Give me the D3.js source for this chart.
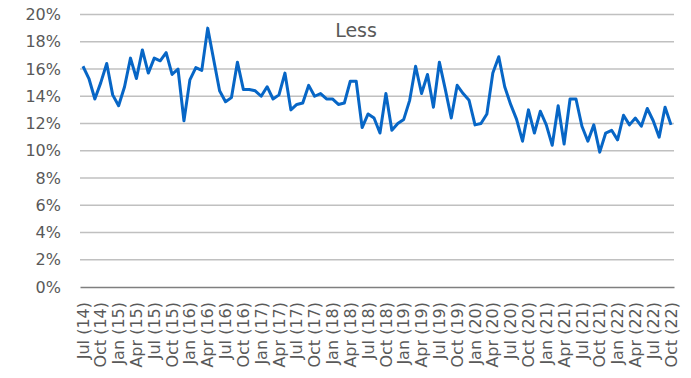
<!DOCTYPE html>
<html>
<head>
<meta charset="utf-8">
<script src="https://cdn.jsdelivr.net/npm/d3@7"></script>
<style>
  html, body { margin: 0; padding: 0; background: #ffffff; }
  svg { display: block; }
  text { font-family: "DejaVu Sans", Verdana, sans-serif; fill: #595959; }
</style>
</head>
<body>
<svg id="chart" width="691" height="378"></svg>
<script>
const categories = [
  "Jul (14)","Aug (14)","Sep (14)","Oct (14)","Nov (14)","Dec (14)",
  "Jan (15)","Feb (15)","Mar (15)","Apr (15)","May (15)","Jun (15)","Jul (15)","Aug (15)","Sep (15)","Oct (15)","Nov (15)","Dec (15)",
  "Jan (16)","Feb (16)","Mar (16)","Apr (16)","May (16)","Jun (16)","Jul (16)","Aug (16)","Sep (16)","Oct (16)","Nov (16)","Dec (16)",
  "Jan (17)","Feb (17)","Mar (17)","Apr (17)","May (17)","Jun (17)","Jul (17)","Aug (17)","Sep (17)","Oct (17)","Nov (17)","Dec (17)",
  "Jan (18)","Feb (18)","Mar (18)","Apr (18)","May (18)","Jun (18)","Jul (18)","Aug (18)","Sep (18)","Oct (18)","Nov (18)","Dec (18)",
  "Jan (19)","Feb (19)","Mar (19)","Apr (19)","May (19)","Jun (19)","Jul (19)","Aug (19)","Sep (19)","Oct (19)","Nov (19)","Dec (19)",
  "Jan (20)","Feb (20)","Mar (20)","Apr (20)","May (20)","Jun (20)","Jul (20)","Aug (20)","Sep (20)","Oct (20)","Nov (20)","Dec (20)",
  "Jan (21)","Feb (21)","Mar (21)","Apr (21)","May (21)","Jun (21)","Jul (21)","Aug (21)","Sep (21)","Oct (21)","Nov (21)","Dec (21)",
  "Jan (22)","Feb (22)","Mar (22)","Apr (22)","May (22)","Jun (22)","Jul (22)","Aug (22)","Sep (22)","Oct (22)"
];

const lessValues = [
  16.2, 15.3, 13.8, 15.0, 16.4, 14.1,
  13.3, 14.7, 16.8, 15.3, 17.4, 15.7, 16.8, 16.6, 17.2, 15.6, 16.0, 12.2,
  15.2, 16.1, 15.9, 19.0, 16.7, 14.4, 13.6, 13.9, 16.5, 14.5, 14.5, 14.4,
  14.0, 14.7, 13.8, 14.1, 15.7, 13.0, 13.4, 13.5, 14.8, 14.0, 14.2, 13.8,
  13.8, 13.4, 13.5, 15.1, 15.1, 11.7, 12.7, 12.4, 11.3, 14.2, 11.5, 12.0,
  12.3, 13.7, 16.2, 14.2, 15.6, 13.2, 16.5, 14.5, 12.4, 14.8, 14.2, 13.7,
  11.9, 12.0, 12.7, 15.7, 16.9, 14.7, 13.4, 12.3, 10.7, 13.0, 11.3, 12.9,
  11.9, 10.4, 13.3, 10.5, 13.8, 13.8, 11.8, 10.7, 11.9, 9.9, 11.3, 11.5,
  10.8, 12.6, 11.9, 12.4, 11.8, 13.1, 12.2, 11.0, 13.2, 11.9
];

const yTicks = [0, 2, 4, 6, 8, 10, 12, 14, 16, 18, 20];
const seriesTitle = "Less";

const svg = d3.select("#chart");
const plot = { left: 80, right: 674, top: 14.5, bottom: 287 };

const x = d3.scaleBand()
  .domain(categories)
  .range([plot.left, plot.right])
  .padding(0);

const y = d3.scaleLinear()
  .domain([0, 20])
  .range([plot.bottom, plot.top]);

// gridlines
svg.append("g")
  .selectAll("line")
  .data(yTicks.filter(d => d !== 0))
  .join("line")
  .attr("x1", plot.left).attr("x2", plot.right)
  .attr("y1", d => y(d)).attr("y2", d => y(d))
  .attr("stroke", "#c0c0c0")
  .attr("stroke-width", 1.3);

// y axis labels
const yAxis = d3.axisLeft(y)
  .tickValues(yTicks)
  .tickFormat(d => d + "%")
  .tickSize(0)
  .tickPadding(19);
const yg = svg.append("g").attr("transform", `translate(${plot.left},0)`).call(yAxis);
yg.select(".domain").remove();
yg.selectAll("text").style("font-size", "16px").attr("fill", "#595959");

// x axis
const xAxis = d3.axisBottom(x)
  .tickValues(categories.filter((c, i) => i % 3 === 0))
  .tickSize(0);
const xg = svg.append("g").attr("transform", `translate(0,${plot.bottom})`).call(xAxis);
xg.select(".domain")
  .attr("stroke", "#7f7f7f")
  .attr("stroke-width", 1.5);
xg.selectAll("text")
  .style("font-size", "16px")
  .attr("fill", "#595959")
  .attr("text-anchor", "end")
  .attr("transform", "rotate(-90)")
  .attr("x", -15)
  .attr("y", 0)
  .attr("dy", "0.35em");

// line
const line = d3.line()
  .x((d, i) => x(categories[i]) + x.bandwidth() / 2)
  .y(d => y(d))
  .curve(d3.curveLinear);

svg.append("path")
  .datum(lessValues)
  .attr("fill", "none")
  .attr("stroke", "#0766c6")
  .attr("stroke-width", 3)
  .attr("stroke-linejoin", "round")
  .attr("d", line);

// title
svg.append("text")
  .attr("x", 356)
  .attr("y", 37)
  .attr("text-anchor", "middle")
  .style("font-size", "19px")
  .attr("fill", "#404040")
  .text(seriesTitle);
</script>
</body>
</html>
